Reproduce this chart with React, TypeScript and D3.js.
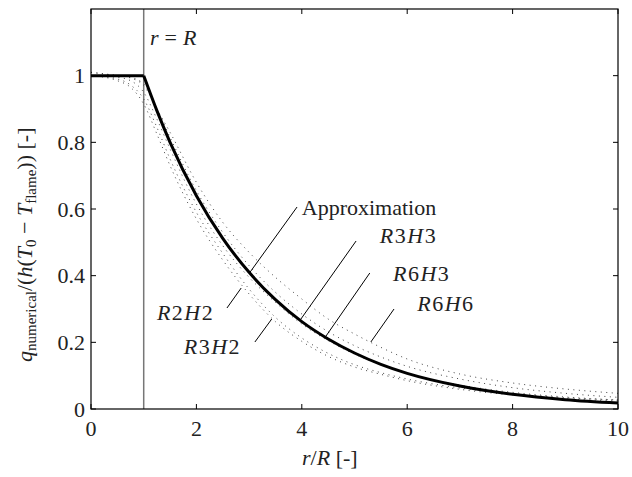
import React from "react";
import * as d3 from "d3";

const xs = [0, 0.5, 0.75, 1, 1.25, 1.5, 2, 2.5, 3, 3.5, 4, 4.5, 5, 5.5, 6, 7, 8, 9, 10];
const approximation = [1, 1, 1, 1, 0.895, 0.8, 0.64, 0.512, 0.41, 0.328, 0.262, 0.21, 0.168, 0.134, 0.107, 0.069, 0.044, 0.028, 0.018];
const r2h2 = [1.0, 0.985, 0.965, 0.915, 0.825, 0.73, 0.57, 0.447, 0.345, 0.262, 0.203, 0.158, 0.126, 0.104, 0.085, 0.059, 0.042, 0.031, 0.024];
const r3h2 = [1.0, 0.99, 0.972, 0.93, 0.845, 0.75, 0.59, 0.467, 0.36, 0.275, 0.213, 0.167, 0.133, 0.109, 0.09, 0.063, 0.046, 0.034, 0.027];
const r3h3 = [1.0, 0.995, 0.985, 0.95, 0.87, 0.78, 0.615, 0.49, 0.395, 0.32, 0.255, 0.205, 0.165, 0.133, 0.107, 0.072, 0.05, 0.036, 0.027];
const r6h3 = [1.01, 1.0, 0.993, 0.97, 0.9, 0.815, 0.655, 0.53, 0.43, 0.35, 0.285, 0.232, 0.19, 0.156, 0.128, 0.09, 0.064, 0.047, 0.035];
const r6h6 = [1.01, 1.0, 0.995, 0.975, 0.9, 0.83, 0.68, 0.56, 0.47, 0.395, 0.33, 0.27, 0.225, 0.185, 0.15, 0.105, 0.078, 0.06, 0.047];
const dottedSeries = [r2h2, r3h2, r3h3, r6h3, r6h6];

const xTicks = [0, 2, 4, 6, 8, 10];
const yTicks = [0, 0.2, 0.4, 0.6, 0.8, 1];
const yTickLabels = ["0", "0.2", "0.4", "0.6", "0.8", "1"];

const annNames = ["R2H2", "R3H2", "R3H3", "R6H3", "R6H6"];
const annLabelX = [1.25, 1.76, 5.48, 5.73, 6.19];
const annLabelY = [0.267, 0.165, 0.498, 0.384, 0.294];
const annLineFrom = [[2.58, 0.303], [3.11, 0.201], [5.03, 0.504], [5.29, 0.408], [5.75, 0.30]];
const annLineTo = [[2.85, 0.363], [3.43, 0.27], [3.97, 0.267], [4.46, 0.219], [5.31, 0.201]];
const approxLabel = [4.0, 0.582];
const approxLineFrom = [3.91, 0.606];
const approxLineTo = [3.02, 0.411];
const rRLabel = [1.12, 1.092];
const rRLine = 1;
const kneeIndex = 3; // x = 1

const W = 632, H = 477;
const L = 91, R = 618, T = 9, B = 409;
const FONT = "'Liberation Serif', 'Times New Roman', serif";
const FS = 22;

export default function App() {
  const x = d3.scaleLinear().domain([0, 10]).range([L, R]);
  const y = d3.scaleLinear().domain([0, 1.2]).range([B, T]);
  const pts = (s: number[]) => s.map((v, i) => [xs[i], v] as [number, number]);
  const smooth = d3
    .line<[number, number]>()
    .x((d) => x(d[0]))
    .y((d) => y(d[1]))
    .curve(d3.curveMonotoneX);
  const straight = d3
    .line<[number, number]>()
    .x((d) => x(d[0]))
    .y((d) => y(d[1]));

  const apPts = pts(approximation);
  const flatPath = straight(apPts.slice(0, kneeIndex + 1)) || "";
  const decayPath = smooth(apPts.slice(kneeIndex)) || "";

  const mathLabel = (s: string) =>
    s.split("").map((c, i) =>
      /[0-9]/.test(c) ? (
        <tspan key={i} fontStyle="normal">{c}</tspan>
      ) : (
        <tspan key={i} fontStyle="italic">{c}</tspan>
      )
    );

  return (
    <svg width={W} height={H} style={{ position: "absolute", left: 0, top: 0, background: "#fff" }} fontFamily={FONT}>
      <rect x={0} y={0} width={W} height={H} fill="#fff" />
      <line x1={x(rRLine)} x2={x(rRLine)} y1={T} y2={B} stroke="#777" strokeWidth={1.5} />
      {dottedSeries.map((s, k) => (
        <path key={k} d={smooth(pts(s)) || ""} fill="none" stroke="#444" strokeWidth={1} strokeDasharray="1 4.5" />
      ))}
      <path d={flatPath} fill="none" stroke="#000" strokeWidth={3} />
      <path d={decayPath} fill="none" stroke="#000" strokeWidth={3} />
      <rect x={L} y={T} width={R - L} height={B - T} fill="none" stroke="#000" strokeWidth={1.2} />
      {xTicks.map((t) => (
        <g key={"x" + t}>
          <line x1={x(t)} x2={x(t)} y1={B} y2={B - 5} stroke="#000" />
          <line x1={x(t)} x2={x(t)} y1={T} y2={T + 5} stroke="#000" />
          <text x={x(t)} y={436} textAnchor="middle" fontSize={FS} fill="#222">{t}</text>
        </g>
      ))}
      {yTicks.map((t, i) => (
        <g key={"y" + t}>
          <line x1={L} x2={L + 5} y1={y(t)} y2={y(t)} stroke="#000" />
          <line x1={R} x2={R - 5} y1={y(t)} y2={y(t)} stroke="#000" />
          <text x={85} y={y(t) + 7.5} textAnchor="end" fontSize={FS} fill="#222">{yTickLabels[i]}</text>
        </g>
      ))}
      <text x={x(rRLabel[0])} y={y(rRLabel[1])} fontSize={FS} fill="#222">
        <tspan fontStyle="italic">r</tspan>
        <tspan dx={6}>=</tspan>
        <tspan dx={6} fontStyle="italic">R</tspan>
      </text>
      <line x1={x(approxLineFrom[0])} y1={y(approxLineFrom[1])} x2={x(approxLineTo[0])} y2={y(approxLineTo[1])} stroke="#000" strokeWidth={1} />
      <text x={x(approxLabel[0])} y={y(approxLabel[1])} fontSize={FS} fill="#222">Approximation</text>
      {annNames.map((n, i) => (
        <g key={n}>
          <line x1={x(annLineFrom[i][0])} y1={y(annLineFrom[i][1])} x2={x(annLineTo[i][0])} y2={y(annLineTo[i][1])} stroke="#000" strokeWidth={1} />
          <text x={x(annLabelX[i])} y={y(annLabelY[i])} fontSize={FS} fill="#222" letterSpacing={1.5}>{mathLabel(n)}</text>
        </g>
      ))}
      <text x={302} y={465} fontSize={FS} fill="#222">
        <tspan fontStyle="italic">r</tspan>
        <tspan>/</tspan>
        <tspan fontStyle="italic">R</tspan>
        <tspan> [-]</tspan>
      </text>
      <text transform="translate(32,362) rotate(-90)" fontSize={FS} fill="#222">
        <tspan fontStyle="italic">q</tspan>
        <tspan fontSize={15} dy={4}>numerical</tspan>
        <tspan dy={-4}>/(</tspan>
        <tspan fontStyle="italic">h</tspan>
        <tspan>(</tspan>
        <tspan fontStyle="italic">T</tspan>
        <tspan fontSize={15} dy={4}>0</tspan>
        <tspan dy={-4}> − </tspan>
        <tspan fontStyle="italic">T</tspan>
        <tspan fontSize={15} dy={4}>flame</tspan>
        <tspan dy={-4}>)) [-]</tspan>
      </text>
    </svg>
  );
}
